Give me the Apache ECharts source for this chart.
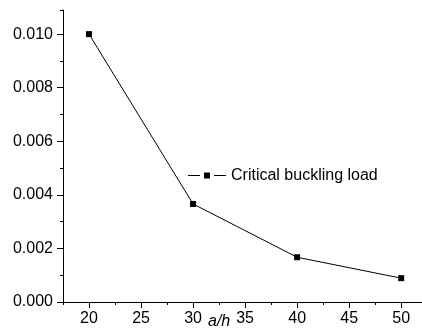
<!DOCTYPE html>
<html>
<head>
<meta charset="utf-8">
<script src="https://cdn.jsdelivr.net/npm/echarts@6/dist/echarts.min.js"></script>
<style>
  html, body { margin: 0; padding: 0; background: #fff; }
  #main { width: 422px; height: 333px; }
</style>
</head>
<body>
<div id="main"></div>
<script>
// a/h ratios
var ratios = [20, 30, 40, 50];
// critical buckling load
var loads = [0.0100, 0.00366, 0.00167, 0.00089];
// tick positions
var xMajor = [20, 25, 30, 35, 40, 45, 50];
var xMinor = [17.5, 22.5, 27.5, 32.5, 37.5, 42.5, 47.5];
var seriesName = 'Critical buckling load';
var xName = 'a/h';

var font = '"Liberation Sans", Arial, sans-serif';

var option = {
  animation: false,
  grid: { left: 63, right: 0, top: 10, bottom: 31 },
  legend: {
    left: 183,
    top: 162.5,
    itemWidth: 38,
    itemHeight: 6,
    // line - square - line, with small gaps like the original
    icon: 'path://M0,2.5H12V3.5H0Z M16,0H22V6H16Z M26,2.5H38V3.5H26Z',
    textStyle: { fontFamily: font, fontSize: 16, color: '#000' },
    data: [seriesName]
  },
  xAxis: [{
    type: 'value',
    min: 17.5,
    max: 52,
    splitLine: { show: false },
    axisLine: { lineStyle: { color: '#000', width: 1 } },
    axisTick: { length: 6, customValues: xMajor, lineStyle: { color: '#000' } },
    axisLabel: {
      margin: 9,
      fontFamily: font,
      fontSize: 16,
      color: '#000',
      customValues: xMajor
    }
  }, {
    // minor ticks
    type: 'value',
    position: 'bottom',
    min: 17.5,
    max: 52,
    splitLine: { show: false },
    axisLine: { show: false },
    axisTick: { show: true, length: 3, customValues: xMinor, lineStyle: { color: '#000' } },
    axisLabel: { show: false }
  }],
  yAxis: [{
    type: 'value',
    min: 0,
    max: 0.0109,
    interval: 0.002,
    splitLine: { show: false },
    axisLine: { show: true, lineStyle: { color: '#000', width: 1 } },
    axisTick: { show: true, length: 6, lineStyle: { color: '#000' } },
    axisLabel: {
      margin: 10,
      fontFamily: font,
      fontSize: 16,
      color: '#000',
      showMaxLabel: false,
      formatter: function (v) { return v.toFixed(3); }
    }
  }, {
    // minor ticks
    type: 'value',
    position: 'left',
    offset: 0,
    min: 0,
    max: 0.0109,
    interval: 0.001,
    splitLine: { show: false },
    axisLine: { show: false },
    axisTick: { show: true, length: 3, lineStyle: { color: '#000' } },
    axisLabel: { show: false }
  }],
  series: [{
    name: seriesName,
    type: 'line',
    xAxisIndex: 0,
    yAxisIndex: 0,
    data: ratios.map(function (r, i) { return [r, loads[i]]; }),
    symbol: 'rect',
    symbolSize: 6,
    lineStyle: { color: '#000', width: 1 },
    itemStyle: { color: '#000' }
  }],
  graphic: [{
    type: 'text',
    left: 208,
    top: 314,
    style: {
      text: xName,
      fontFamily: font,
      fontSize: 16,
      fontStyle: 'italic',
      fill: '#000'
    }
  }]
};

echarts.init(document.getElementById('main')).setOption(option);
</script>
</body>
</html>
